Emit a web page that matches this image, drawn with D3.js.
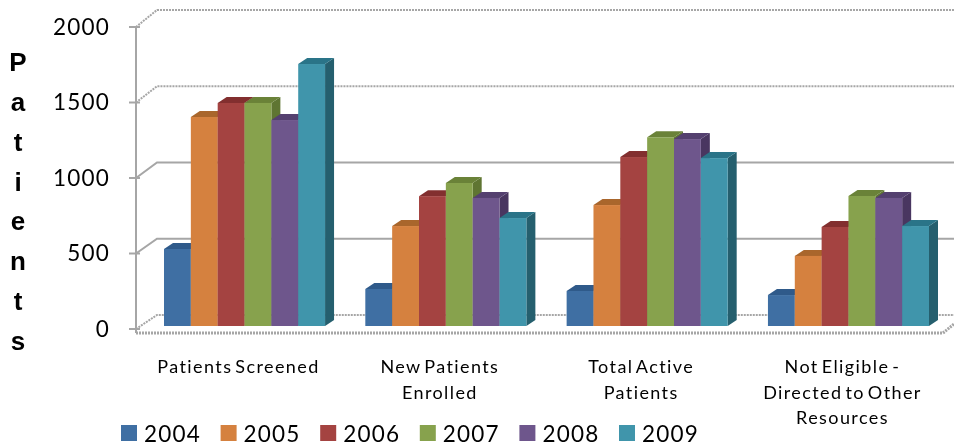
<!DOCTYPE html>
<html>
<head>
<meta charset="utf-8">
<script src="https://cdn.jsdelivr.net/npm/d3@7"></script>
<style>
  html, body { margin: 0; background: #fff; }
  svg { display: block; filter: blur(0.35px); }
</style>
</head>
<body>
<svg id="chart" width="954" height="446"></svg>
<script>
const categories = ["Patients Screened", "New Patients Enrolled", "Total Active Patients", "Not Eligible - Directed to Other Resources"];
const categoryLines = [["Patients Screened"], ["New Patients", "Enrolled"], ["Total Active", "Patients"], ["Not Eligible -", "Directed to Other", "Resources"]];
const years = ["2004", "2005", "2006", "2007", "2008", "2009"];
const values2004 = [510, 245, 232, 205];
const values2005 = [1384, 662, 801, 464];
const values2006 = [1477, 860, 1119, 656];
const values2007 = [1477, 947, 1250, 861];
const values2008 = [1364, 848, 1238, 848];
const values2009 = [1735, 715, 1112, 662];
const seriesValues = [values2004, values2005, values2006, values2007, values2008, values2009];
const yTicks = [0, 500, 1000, 1500, 2000];
const titleLetters = ["P", "a", "t", "i", "e", "n", "t", "s"];

const frontColors = ["#3f6fa3", "#d5813f", "#a44341", "#87a24d", "#6e568c", "#4095ab"];
const topColors = ["#2f5a8a", "#a9662c", "#822f2f", "#6a8238", "#54406f", "#2a7488"];
const sideColors = ["#2d5178", "#97592a", "#752b2a", "#5f7532", "#493660", "#255f6e"];

const svg = d3.select("#chart");
const font = "Lato, 'Open Sans', sans-serif";
const axisLeft = 136;
const wallLeft = 157;
const depth = {dx: 9, dy: -6};    // bar depth

// the front axis, the back wall and the bars each have their own vertical scale
const yAxisScale = d3.scaleLinear().domain([0, 2000]).range([329, 27]);
const yWall = d3.scaleLinear().domain([0, 2000]).range([315, 10]);
const y = d3.scaleLinear().domain([0, 2000]).range([326, 24]);
const x0 = d3.scaleBand().domain(d3.range(categories.length)).range([164, 929]).paddingInner(0.2);
const x1 = d3.scaleBand().domain(d3.range(years.length)).range([0, x0.bandwidth()]);

// back wall lines and their slanted joins to the front axis
const grid = svg.append("g");
yTicks.forEach(t => {
  const yy = yAxisScale(t);
  const noisy = t === 0 || t >= 1500;
  grid.append("path")
    .attr("fill", "none")
    .attr("stroke", "#a6a6a6")
    .attr("stroke-width", 2)
    .attr("stroke-dasharray", noisy ? "2 1" : null)
    .attr("d", `M${axisLeft},${yy} L${wallLeft},${yWall(t)} H954`);
  svg.append("path")
    .attr("fill", "none")
    .attr("stroke", "#a6a6a6")
    .attr("stroke-width", 2)
    .attr("d", `M${axisLeft - 7},${yy} H${axisLeft + 4}`);
});

// front axis lines
svg.append("path")
  .attr("fill", "none")
  .attr("stroke", "#a6a6a6")
  .attr("stroke-width", 2)
  .attr("d", `M${axisLeft},${yAxisScale(2000)} V${yAxisScale(0) + 4}`);
svg.append("path")
  .attr("fill", "none")
  .attr("stroke", "#a6a6a6")
  .attr("stroke-width", 3)
  .attr("stroke-dasharray", "2 1")
  .attr("d", `M${axisLeft},${yAxisScale(0) + 4} H943 L954,${yAxisScale(0) - 5}`);

// bars, left to right so each front covers the side of the one before
const bars = svg.append("g");
categories.forEach((c, i) => {
  years.forEach((yr, s) => {
    const v = seriesValues[s][i];
    const bx = x0(i) + x1(s);
    const bw = x1.bandwidth();
    const top = y(v);
    const base = y(0);
    bars.append("path")
      .attr("fill", sideColors[s])
      .attr("d", `M${bx + bw},${top} l${depth.dx},${depth.dy} V${base + depth.dy} L${bx + bw},${base} Z`);
    bars.append("path")
      .attr("fill", topColors[s])
      .attr("d", `M${bx},${top} l${depth.dx},${depth.dy} H${bx + bw + depth.dx} L${bx + bw},${top} Z`);
    bars.append("rect")
      .attr("x", bx)
      .attr("y", top)
      .attr("width", bw)
      .attr("height", base - top)
      .attr("fill", frontColors[s]);
  });
});

// y axis labels
const yAxis = svg.append("g")
  .attr("transform", `translate(${axisLeft - 7},0)`)
  .call(d3.axisLeft(yAxisScale).tickValues(yTicks).tickFormat(d3.format("d")).tickSize(0).tickPadding(19));
yAxis.select(".domain").remove();
yAxis.selectAll("text")
  .attr("fill", "#000")
  .style("font-family", font)
  .style("font-size", "22.5px")
  .style("letter-spacing", "1.2px");

// stacked axis title
const titleY = d3.scalePoint().domain(d3.range(titleLetters.length)).range([71, 350]);
svg.append("g").selectAll("text")
  .data(titleLetters)
  .join("text")
  .attr("x", 18)
  .attr("y", (d, i) => titleY(i))
  .attr("text-anchor", "middle")
  .style("font-family", "'Liberation Sans', Arial, sans-serif")
  .style("font-weight", "bold")
  .style("font-size", "26px")
  .text(d => d);

// category labels
categoryLines.forEach((lines, i) => {
  lines.forEach((line, j) => {
    svg.append("text")
      .attr("x", x0(i) + x0.bandwidth() / 2 - 6)
      .attr("y", 373 + j * 25.5)
      .attr("text-anchor", "middle")
      .style("font-family", font)
      .style("font-size", "18px")
      .style("letter-spacing", "1.4px")
      .style("word-spacing", "-3px")
      .text(line);
  });
});

// legend
const legendX = d3.scalePoint().domain(years).range([121, 619]);
const legend = svg.append("g").selectAll("g")
  .data(years)
  .join("g")
  .attr("transform", d => `translate(${legendX(d)},0)`);
legend.append("rect")
  .attr("y", 425)
  .attr("width", 16)
  .attr("height", 16)
  .attr("fill", (d, i) => frontColors[i]);
legend.append("text")
  .attr("x", 23)
  .attr("y", 442)
  .style("font-family", font)
  .style("font-size", "22.5px")
  .style("letter-spacing", "1.2px")
  .text(d => d);
</script>
</body>
</html>
